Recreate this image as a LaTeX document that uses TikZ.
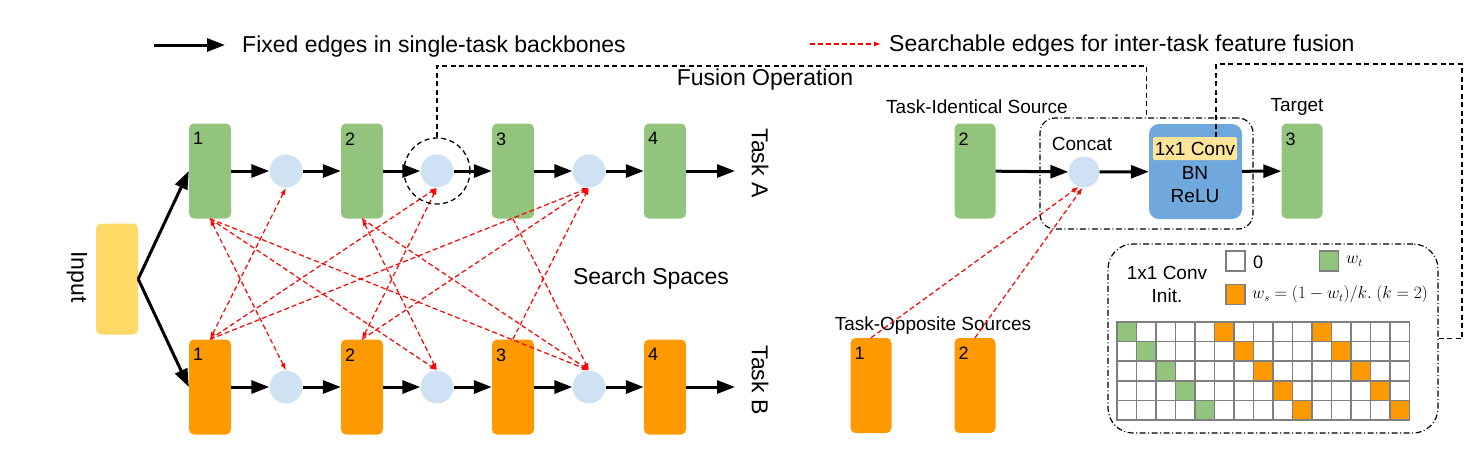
\documentclass[tikz,border=0pt]{standalone}
\usepackage{fontspec}
\setmainfont{Liberation Sans}
\usetikzlibrary{arrows.meta,calc,positioning}

\definecolor{boxgreen}{HTML}{93C47D}
\definecolor{boxorange}{HTML}{FF9900}
\definecolor{opblue}{HTML}{CFE2F3}
\definecolor{inyellow}{HTML}{FFD966}
\definecolor{convblue}{HTML}{6FA8DC}
\definecolor{convyellow}{HTML}{FFE599}
\definecolor{cellgray}{HTML}{7F7F7F}

\newcommand{\fsbig}{\fontsize{23}{27}\selectfont}
\newcommand{\fsmid}{\fontsize{19}{23}\selectfont}
\newcommand{\fsnum}{\fontsize{18}{21}\selectfont}
\newcommand{\fsmath}{\fontsize{16}{19}\selectfont}

\tikzset{
  block/.style={rounded corners=5pt, minimum width=42pt, minimum height=95pt, inner sep=0pt},
  taska/.style={block, fill=boxgreen},
  taskb/.style={block, fill=boxorange},
  fuse/.style={circle, fill=opblue, minimum size=33pt, inner sep=0pt},
  num/.style={anchor=north west, inner sep=0pt, xshift=4pt, yshift=-9pt, font=\fsnum},
  txt/.style={inner sep=0pt, font=\fsbig},
  fixed/.style={line width=3pt, -{Triangle[length=18pt,width=13pt]}},
  search/.style={red, line width=1.2pt, dash pattern=on 5pt off 3pt, -{Latex[length=7pt,width=5pt]}},
  searchboth/.style={search, {Latex[length=7pt,width=5pt]}-{Latex[length=7pt,width=5pt]}},
  conn/.style={line width=1.3pt, dash pattern=on 5pt off 3.5pt},
  groupbox/.style={draw, line width=1.2pt, dash pattern=on 6pt off 2.5pt on 1pt off 2.5pt},
  cell/.style={draw=cellgray, line width=1.5pt},
}

\begin{document}
\begin{tikzpicture}[x=1pt, y=-1pt]

    \useasboundingbox (0,0) rectangle (1475,451);

    % legend
    \coordinate (lf0) at (154,45);
    \coordinate (lf1) at (225,45);
    \draw[fixed] (lf0) -- (lf1);
    \node (lfix) at (242,47) [txt, anchor=west] {Fixed edges in single-task backbones};
    \coordinate (ls0) at (810,44);
    \coordinate (ls1) at (881,44);
    \draw[search] (ls0) -- (ls1);
    \node (lsea) at (889,46) [txt, anchor=west] {Searchable edges for inter-task feature fusion};

    % input
    \node (inp) at (117,279) [block, fill=inyellow, minimum height=111pt] {};
    \node (inpt) at (77,277) [txt, rotate=-90] {Input};

    % task A
    \node (a1) at (210,171) [taska] {};
    \node (a2) at (362,171) [taska] {};
    \node (a3) at (513,171) [taska] {};
    \node (a4) at (665,171) [taska] {};
    \node (a1n) at (a1.north west) [num] {1};
    \node (a2n) at (a2.north west) [num] {2};
    \node (a3n) at (a3.north west) [num] {3};
    \node (a4n) at (a4.north west) [num] {4};
    \node (ca1) at (286,171) [fuse] {};
    \node (ca2) at (437,171) [fuse] {};
    \node (ca3) at (589,171) [fuse] {};
    \coordinate (outa) at (735,171);
    \node (tka) at (760,163) [txt, rotate=-90] {Task A};

    % task B
    \node (b1) at (210,387) [taskb] {};
    \node (b2) at (362,387) [taskb] {};
    \node (b3) at (513,387) [taskb] {};
    \node (b4) at (665,387) [taskb] {};
    \node (b1n) at (b1.north west) [num] {1};
    \node (b2n) at (b2.north west) [num] {2};
    \node (b3n) at (b3.north west) [num] {3};
    \node (b4n) at (b4.north west) [num] {4};
    \node (cb1) at (286,387) [fuse] {};
    \node (cb2) at (437,387) [fuse] {};
    \node (cb3) at (589,387) [fuse] {};
    \coordinate (outb) at (735,387);
    \node (tkb) at (760,380) [txt, rotate=-90] {Task B};

    \draw[fixed] (inp.east) -- (a1.west);
    \draw[fixed] (inp.east) -- (b1.west);
    \draw[fixed] (a1) -- (ca1);
    \draw[fixed] (ca1) -- (a2);
    \draw[fixed] (a2) -- (ca2);
    \draw[fixed] (ca2) -- (a3);
    \draw[fixed] (a3) -- (ca3);
    \draw[fixed] (ca3) -- (a4);
    \draw[fixed] (a4) -- (outa);
    \draw[fixed] (b1) -- (cb1);
    \draw[fixed] (cb1) -- (b2);
    \draw[fixed] (b2) -- (cb2);
    \draw[fixed] (cb2) -- (b3);
    \draw[fixed] (b3) -- (cb3);
    \draw[fixed] (cb3) -- (b4);
    \draw[fixed] (b4) -- (outb);

    % search edges
    \draw[searchboth] (a1.south) -- (cb1.north);
    \draw[search] (a1.south) -- (cb2.north);
    \draw[search] (a1.south) -- (cb3.north);
    \draw[searchboth] (a2.south) -- (cb2.north);
    \draw[search] (a2.south) -- (cb3.north);
    \draw[search] (a3.south) -- (cb3.north);
    \draw[searchboth] (b1.north) -- (ca1.south);
    \draw[search] (b1.north) -- (ca2.south);
    \draw[search] (b1.north) -- (ca3.south);
    \draw[searchboth] (b2.north) -- (ca2.south);
    \draw[search] (b2.north) -- (ca3.south);
    \draw[search] (b3.north) -- (ca3.south);

    \node (ss) at (651,279) [txt] {Search Spaces};

    % fusion operation
    \node (sel) at (437,171) [circle, draw, conn, minimum size=66pt] {};
    \node (fop) at (765,80) [txt] {Fusion Operation};

    \node (src) at (975,171) [taska, minimum width=41pt] {};
    \node (srcn) at (src.north west) [num] {2};
    \node (srct) at (977,107) [inner sep=0pt, font=\fsmid] {Task-Identical Source};
    \node (tgt) at (1302,171) [taska, minimum width=41pt] {};
    \node (tgtn) at (tgt.north west) [num] {3};
    \node (tgtt) at (1297,107) [inner sep=0pt, font=\fsmid] {Target};

    \node (cc) at (1084,172) [fuse, minimum size=31pt] {};
    \node (cct) at (1082,144) [inner sep=0pt, font=\fsmid] {Concat};
    \node (blk) at (1195.5,171.5) [rounded corners=10pt, fill=convblue, minimum width=93pt, minimum height=95pt] {};
    \node (conv) at (1195,148.5) [rounded corners=2pt, fill=convyellow, minimum width=84pt, minimum height=23pt, inner sep=0pt, font=\fsmid] {1x1 Conv};
    \node (bn) at (1195,173) [inner sep=0pt, font=\fsmid] {BN};
    \node (relu) at (1195,196) [inner sep=0pt, font=\fsmid] {ReLU};
    \node (fbox) at (1146.5,173.5) [groupbox, rounded corners=15pt, minimum width=213pt, minimum height=111pt] {};

    \draw[fixed] (src) -- (cc);
    \draw[fixed] (cc) -- (blk);
    \draw[fixed] (blk) -- (tgt);

    \node (o1) at (871,385.5) [taskb, minimum width=41pt] {};
    \node (o2) at (975,385.5) [taskb, minimum width=41pt] {};
    \node (o1n) at (o1.north west) [num] {1};
    \node (o2n) at (o2.north west) [num] {2};
    \node (opt) at (933,326) [inner sep=0pt, font=\fsmid] {Task-Opposite Sources};
    \draw[search] (o1.north) -- (cc.250);
    \draw[search] (o2.north) -- (cc.265);

    \coordinate (fcorner) at (1146.5,66);
    \draw[conn] (sel.north) |- (fcorner) -- (fbox.north);

    % conv init
    \node (ibox) at (1273,338.5) [groupbox, rounded corners=25pt, minimum width=330pt, minimum height=189pt] {};
    \node (init) at (1167,284.5) [inner sep=0pt, align=center, font=\fsmid] {1x1 Conv\\Init.};
    \node (lgz) at (1235.5,261) [cell, fill=white, minimum width=19pt, minimum height=20pt, inner sep=0pt] {};
    \node (lgzt) at (1253,262) [anchor=west, inner sep=0pt, font=\fsnum] {0};
    \node (lgt) at (1329,261) [cell, fill=boxgreen, minimum width=19pt, minimum height=20pt, inner sep=0pt] {};
    \node (lgtt) at (1346,261) [anchor=west, inner sep=0pt, font=\fsmath] {$w_t$};
    \node (lgs) at (1235.5,294.5) [cell, fill=boxorange, minimum width=19pt, minimum height=20pt, inner sep=0pt] {};
    \node (lgst) at (1252,294.5) [anchor=west, inner sep=0pt, font=\fsmath] {$w_s=(1-w_t)/k.\ (k=2)$};

    \foreach \r in {0,...,4}
      \foreach \c in {0,...,14}
        \draw[cell, fill=white] ({1117+19.5*\c},{322+19.6*\r}) rectangle ++(19.5,19.6);
    \foreach \r in {0,...,4} {
      \draw[cell, fill=boxgreen] ({1117+19.5*\r},{322+19.6*\r}) rectangle ++(19.5,19.6);
      \draw[cell, fill=boxorange] ({1117+19.5*(\r+5)},{322+19.6*\r}) rectangle ++(19.5,19.6);
      \draw[cell, fill=boxorange] ({1117+19.5*(\r+10)},{322+19.6*\r}) rectangle ++(19.5,19.6);
    }

    \coordinate (ctop) at (1216,137);
    \coordinate (rcorner) at (1462,64);
    \draw[conn] (ctop) |- (rcorner) |- (ibox.east);

\end{tikzpicture}
\end{document}
